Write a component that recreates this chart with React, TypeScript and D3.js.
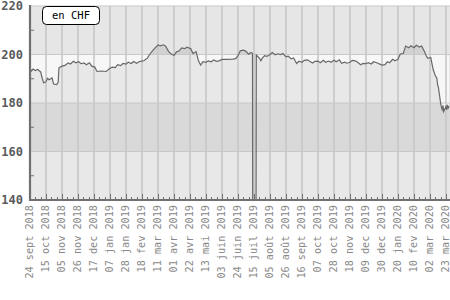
import React from "react";
import * as d3 from "d3";

const dates: string[] = [
  "2018-09-24","2018-09-26","2018-09-28","2018-10-01","2018-10-04","2018-10-08","2018-10-10","2018-10-12","2018-10-15","2018-10-17",
  "2018-10-19","2018-10-23","2018-10-25","2018-10-29","2018-10-31","2018-11-01","2018-11-05","2018-11-09","2018-11-13","2018-11-16",
  "2018-11-20","2018-11-23","2018-11-27","2018-11-30","2018-12-04","2018-12-07","2018-12-11","2018-12-14","2018-12-18","2018-12-21",
  "2018-12-27","2019-01-02","2019-01-07","2019-01-10","2019-01-14","2019-01-17","2019-01-21","2019-01-24","2019-01-28","2019-01-31",
  "2019-02-04","2019-02-07","2019-02-11","2019-02-14","2019-02-18","2019-02-21","2019-02-25","2019-02-28","2019-03-04","2019-03-07",
  "2019-03-11","2019-03-14","2019-03-18","2019-03-21","2019-03-25","2019-03-28","2019-04-01","2019-04-04","2019-04-08","2019-04-11",
  "2019-04-15","2019-04-18","2019-04-23","2019-04-26","2019-04-30","2019-05-03","2019-05-06","2019-05-09","2019-05-13","2019-05-16",
  "2019-05-20","2019-05-23","2019-05-27","2019-05-30","2019-06-03","2019-06-10","2019-06-17","2019-06-21","2019-06-24","2019-06-27",
  "2019-07-01","2019-07-04","2019-07-08","2019-07-11","2019-07-13","2019-07-14","2019-07-17","2019-07-18","2019-07-22","2019-07-24",
  "2019-07-26","2019-07-29","2019-08-01","2019-08-05","2019-08-08","2019-08-12","2019-08-15","2019-08-19","2019-08-22","2019-08-26",
  "2019-08-29","2019-09-02","2019-09-05","2019-09-09","2019-09-12","2019-09-16","2019-09-19","2019-09-23","2019-09-26","2019-09-30",
  "2019-10-03","2019-10-07","2019-10-10","2019-10-14","2019-10-17","2019-10-21","2019-10-24","2019-10-28","2019-10-31","2019-11-04",
  "2019-11-07","2019-11-11","2019-11-14","2019-11-18","2019-11-21","2019-11-25","2019-11-28","2019-12-02","2019-12-05","2019-12-09",
  "2019-12-12","2019-12-16","2019-12-19","2019-12-23","2019-12-30","2020-01-03","2020-01-06","2020-01-09","2020-01-13","2020-01-16",
  "2020-01-20","2020-01-23","2020-01-27","2020-01-30","2020-02-03","2020-02-06","2020-02-10","2020-02-13","2020-02-17","2020-02-20",
  "2020-02-24","2020-02-26","2020-02-28","2020-03-03","2020-03-05","2020-03-06","2020-03-09","2020-03-11","2020-03-12","2020-03-13",
  "2020-03-16","2020-03-17","2020-03-18","2020-03-19","2020-03-20","2020-03-23","2020-03-24","2020-03-25","2020-03-26","2020-03-27",
];

const values: number[] = [
  194.3,193.2,194.0,193.4,193.8,192.8,190.2,188.3,188.8,190.2,
  189.6,190.3,187.8,187.6,188.5,194.5,195.2,195.5,196.5,196.1,
  197.2,196.6,197.0,196.2,196.5,195.8,196.6,195.2,194.8,193.0,
  193.2,193.0,194.3,194.8,194.6,195.8,195.4,196.3,196.0,196.8,
  196.3,197.1,196.4,197.0,197.3,197.5,198.5,200.0,201.6,202.6,
  203.9,203.6,204.0,203.4,201.2,200.3,199.6,201.0,201.5,202.7,
  202.4,203.0,202.4,200.4,201.2,197.5,195.6,197.0,196.8,197.4,
  197.0,197.8,197.2,197.4,198.0,198.0,198.1,198.3,199.5,201.5,
  201.8,201.4,200.1,200.8,200.5,0,0,199.8,198.5,197.4,
  198.6,199.5,199.2,200.0,200.8,199.9,200.3,200.0,200.4,199.0,
  199.3,198.2,198.6,196.3,197.2,196.8,197.6,197.8,197.2,196.5,
  197.2,197.3,196.6,197.6,196.8,197.3,196.8,197.6,197.0,197.8,
  196.4,196.8,196.4,196.8,197.6,197.4,196.8,195.8,196.3,196.2,
  196.6,196.1,197.0,196.6,195.6,195.8,197.0,196.6,198.0,197.4,
  198.0,200.2,200.4,203.5,202.8,203.6,202.8,203.8,203.1,203.5,
  201.0,199.5,198.4,198.8,195.5,194.0,191.2,190.2,187.5,186.5,
  179.8,178.2,177.3,179.0,176.5,178.6,177.2,179.2,178.0,178.6,
];

const xTickDates: string[] = [
  "2018-09-24","2018-10-15","2018-11-05","2018-11-26","2018-12-17","2019-01-07","2019-01-28","2019-02-18","2019-03-11",
  "2019-04-01","2019-04-22","2019-05-13","2019-06-03","2019-06-24","2019-07-15","2019-08-05","2019-08-26","2019-09-16",
  "2019-10-07","2019-10-28","2019-11-18","2019-12-09","2019-12-30","2020-01-20","2020-02-10","2020-03-02","2020-03-23",
];
const xTickLabels: string[] = [
  "24 sept 2018","15 oct 2018","05 nov 2018","26 nov 2018","17 dec 2018","07 jan 2019","28 jan 2019","18 fev 2019","11 mar 2019",
  "01 avr 2019","22 avr 2019","13 mai 2019","03 juin 2019","24 juin 2019","15 juil 2019","05 août 2019","26 août 2019","16 sept 2019",
  "07 oct 2019","28 oct 2019","18 nov 2019","09 dec 2019","30 dec 2019","20 jan 2020","10 fev 2020","02 mar 2020","23 mar 2020",
];
const yTicks: number[] = [140, 160, 180, 200, 220];
const yMinorTicks: number[] = [150, 170, 190, 210];
const legendLabel = "en CHF";
const baseline = 200;

const W = 450, H = 300;
const left = 30, right = 450, top = 6, bottom = 200;

export default function App() {
  const parse = d3.utcParse("%Y-%m-%d");
  const data = dates.map((d, i) => ({ date: parse(d) as Date, v: values[i] }));
  const tickDates = xTickDates.map((d) => parse(d) as Date);

  const x = d3.scaleUtc().domain([tickDates[0], tickDates[tickDates.length - 1]]).range([left, 446]);
  const y = d3.scaleLinear().domain([140, 220]).range([bottom, top]);

  const line = d3.line<{ date: Date; v: number }>().x((d) => x(d.date)).y((d) => y(d.v));
  const area = d3
    .area<{ date: Date; v: number }>()
    .defined((d) => d.v > 100)
    .x((d) => x(d.date))
    .y0(y(baseline))
    .y1((d) => y(d.v));

  const weekly = d3.utcMonday.range(tickDates[0], d3.utcDay.offset(tickDates[tickDates.length - 1], 14));
  const bands = [
    { lo: 140, hi: 160, c: "#e8e8e8" },
    { lo: 160, hi: 180, c: "#d9d9d9" },
    { lo: 180, hi: 200, c: "#e8e8e8" },
    { lo: 200, hi: 220, c: "#e6e6e6" },
  ];
  const axisColor = "#707070";

  return (
    <svg width={W} height={H} style={{ position: "absolute", left: 0, top: 0, background: "#fff" }}>
      <defs>
        <clipPath id="plot">
          <rect x={left} y={top} width={right - left} height={bottom - top} />
        </clipPath>
        <clipPath id="above">
          <rect x={left} y={top} width={right - left} height={y(baseline) - top} />
        </clipPath>
        <clipPath id="below">
          <rect x={left} y={y(baseline)} width={right - left} height={bottom - y(baseline)} />
        </clipPath>
      </defs>
      {bands.map((b) => (
        <rect key={b.lo} x={left} y={y(b.hi)} width={right - left} height={y(b.lo) - y(b.hi)} fill={b.c} />
      ))}
      <path d={area(data) || ""} fill="#d2d2d2" clipPath="url(#above)" />
      <path d={area(data) || ""} fill="#f7f7f7" clipPath="url(#below)" />
      {tickDates.map((d, i) => (
        <line key={"g" + i} x1={x(d)} x2={x(d)} y1={top} y2={bottom} stroke="#c4c4c4" strokeWidth={1.5} />
      ))}
      {yTicks.map((v) => (
        <line key={"h" + v} x1={left} x2={right} y1={y(v)} y2={y(v)} stroke="#c8c8c8" strokeWidth={1.2} />
      ))}
      <path d={line(data) || ""} fill="none" stroke="#686868" strokeWidth={1.2} clipPath="url(#plot)" />
      <line x1={left} x2={left} y1={top - 1} y2={bottom + 1} stroke={axisColor} strokeWidth={2.2} />
      <line x1={left} x2={right} y1={bottom} y2={bottom} stroke={axisColor} strokeWidth={2.2} />
      {yMinorTicks.map((v) => (
        <line key={"m" + v} x1={left} x2={left + 4} y1={y(v)} y2={y(v)} stroke={axisColor} strokeWidth={1} />
      ))}
      {weekly.map((d, i) => {
        const major = tickDates.some((t) => +t === +d);
        const xx = Math.round(x(d)) + 0.5;
        if (xx > right) return null;
        return <line key={"w" + i} x1={xx} x2={xx} y1={bottom} y2={bottom - (major ? 6 : 3)} stroke={axisColor} strokeWidth={1} />;
      })}
      {yTicks.map((v) => (
        <text key={"yl" + v} x={23} y={y(v)} dy="0.35em" textAnchor="end" fontFamily="DejaVu Sans Mono" fontWeight="bold" fontSize={12} fill="#5a5a5a">
          {v}
        </text>
      ))}
      {tickDates.map((d, i) => (
        <text
          key={"xl" + i}
          transform={`translate(${x(d)},${bottom + 5}) rotate(-90)`}
          dy="0.3em"
          textAnchor="end"
          fontFamily="DejaVu Sans Mono"
          fontSize={10.2}
          fill="#8a8a8a"
        >
          {xTickLabels[i]}
        </text>
      ))}
      <rect x={42.5} y={6.5} width={57} height={18} rx={4} fill="#fff" stroke="#000" strokeWidth={1} />
      <text x={71} y={15.5} dy="0.35em" textAnchor="middle" fontFamily="DejaVu Sans Mono" fontSize={10.5} fill="#000">
        {legendLabel}
      </text>
    </svg>
  );
}
